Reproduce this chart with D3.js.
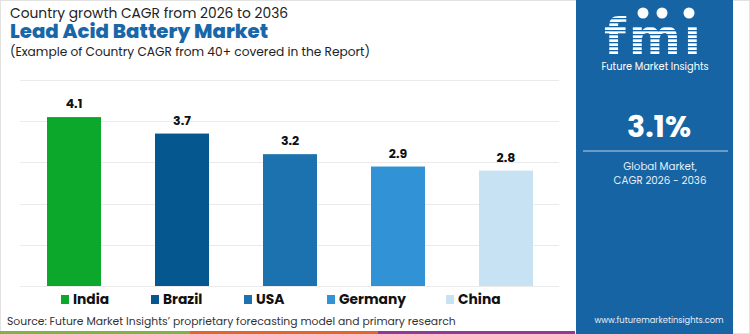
<!DOCTYPE html>
<html lang="en">
<head>
<meta charset="utf-8">
<title>Lead Acid Battery Market</title>
<style>
  body { margin: 0; background: #fff; }
  svg { display: block; font-family: 'Poppins', 'Lato', 'Open Sans', sans-serif; }
</style>
<script src="https://d3js.org/d3.v7.min.js"></script>
</head>
<body>
<svg id="chart" width="750" height="334"></svg>
<script>
// data
var countries = ["India", "Brazil", "USA", "Germany", "China"];
var cagr = [4.1, 3.7, 3.2, 2.9, 2.8];
var yTicks = [0, 1, 2, 3, 4, 5];
var globalCagr = "3.1%";

var svg = d3.select("#chart");

var x = d3.scaleBand().domain(countries).range([20, 560]).padding(0.5).paddingOuter(0.25);
var y = d3.scaleLinear().domain([0, 5]).range([286, 80]);
var color = d3.scaleOrdinal().domain(countries)
  .range(["#0ca82c", "#04588f", "#1b72ae", "#3193d5", "#c6e2f3"]);

// frame
svg.append("rect").attr("x", 0.5).attr("y", 0.5).attr("width", 749).attr("height", 333)
  .attr("fill", "none").attr("stroke", "#e2e2e2");

// titles
svg.append("text").attr("x", 10).attr("y", 18).attr("font-size", 13.8).attr("fill", "#222")
  .text("Country growth CAGR from 2026 to 2036");
svg.append("text").attr("x", 10).attr("y", 38).attr("font-size", 19.8).attr("font-weight", 800)
  .attr("fill", "#1867a8").text("Lead Acid Battery Market");
svg.append("text").attr("x", 10).attr("y", 56).attr("font-size", 12.2).attr("fill", "#222")
  .text("(Example of Country CAGR from 40+ covered in the Report)");

// gridlines
svg.append("g").selectAll("line").data(yTicks).join("line")
  .attr("x1", 20).attr("x2", 559)
  .attr("y1", d => Math.round(y(d)) + 0.5).attr("y2", d => Math.round(y(d)) + 0.5)
  .attr("stroke", "#ebebeb").attr("stroke-width", 1);

// bars
svg.append("g").selectAll("rect").data(countries).join("rect")
  .attr("x", d => x(d)).attr("width", x.bandwidth())
  .attr("y", (d, i) => y(cagr[i])).attr("height", (d, i) => y(0) - y(cagr[i]))
  .attr("fill", d => color(d));

// value labels
svg.append("g").selectAll("text").data(countries).join("text")
  .attr("x", d => x(d) + x.bandwidth() / 2).attr("y", (d, i) => y(cagr[i]) - 9)
  .attr("text-anchor", "middle").attr("font-size", 12.5).attr("font-weight", 700)
  .attr("fill", "#111").text((d, i) => cagr[i].toFixed(1));

// legend
var legendX = [61, 151, 244, 327, 446];
var lg = svg.append("g").selectAll("g").data(countries).join("g")
  .attr("transform", (d, i) => "translate(" + legendX[i] + ",299)");
lg.append("rect").attr("x", 0).attr("y", -4).attr("width", 8).attr("height", 9).attr("fill", d => color(d));
lg.append("text").attr("x", 12).attr("y", 5).attr("font-size", 13.8).attr("font-weight", 700)
  .attr("fill", "#111").text(d => d);

// source
svg.append("text").attr("x", 7).attr("y", 325).attr("font-size", 10.8).attr("fill", "#333")
  .text("Source: Future Market Insights’ proprietary forecasting model and primary research");

// bottom strip
var strip = [[0, 190, "#7cb342"], [190, 378, "#e0662c"], [378, 575, "#8e3a96"]];
svg.append("g").selectAll("rect").data(strip).join("rect")
  .attr("x", d => d[0]).attr("width", d => d[1] - d[0]).attr("y", 331).attr("height", 3)
  .attr("fill", d => d[2]);

// side panel
var panel = svg.append("g");
panel.append("rect").attr("x", 576).attr("y", 0).attr("width", 157).attr("height", 334).attr("fill", "#1664a3");

// logo
var logo = panel.append("g");
logo.append("text").attr("x", 654).attr("y", 54).attr("text-anchor", "middle")
  .attr("font-size", 50).attr("font-weight", 900).attr("fill", "#fff")
  .attr("font-family", "'DejaVu Sans', sans-serif").attr("letter-spacing", 3).text("fmı");
for (var s = 18; s < 56; s += 4) {
  logo.append("rect").attr("x", 596).attr("y", s).attr("width", 118).attr("height", 1.3).attr("fill", "#1664a3");
}
[[643, 13], [662, 13], [689, 13]].forEach(function (c) {
  logo.append("circle").attr("cx", c[0]).attr("cy", c[1]).attr("r", 5.5).attr("fill", "#fff");
});
panel.append("text").attr("x", 655).attr("y", 70).attr("text-anchor", "middle")
  .attr("font-size", 9.8).attr("fill", "#fff").text("Future Market Insights");

panel.append("text").attr("x", 659).attr("y", 137).attr("text-anchor", "middle")
  .attr("font-size", 30).attr("font-weight", 700).attr("fill", "#fff").text(globalCagr);
panel.append("line").attr("x1", 583).attr("x2", 728).attr("y1", 151).attr("y2", 151)
  .attr("stroke", "#b9d4ea").attr("stroke-width", 1.2);
panel.append("text").attr("x", 660).attr("y", 170).attr("text-anchor", "middle")
  .attr("font-size", 10.3).attr("fill", "#e8f0f8").text("Global Market,");
panel.append("text").attr("x", 660).attr("y", 184).attr("text-anchor", "middle")
  .attr("font-size", 10.3).attr("fill", "#e8f0f8").text("CAGR 2026 - 2036");
panel.append("text").attr("x", 659).attr("y", 323).attr("text-anchor", "middle")
  .attr("font-size", 8.3).attr("fill", "#e8f0f8").text("www.futuremarketinsights.com");
</script>
</body>
</html>
